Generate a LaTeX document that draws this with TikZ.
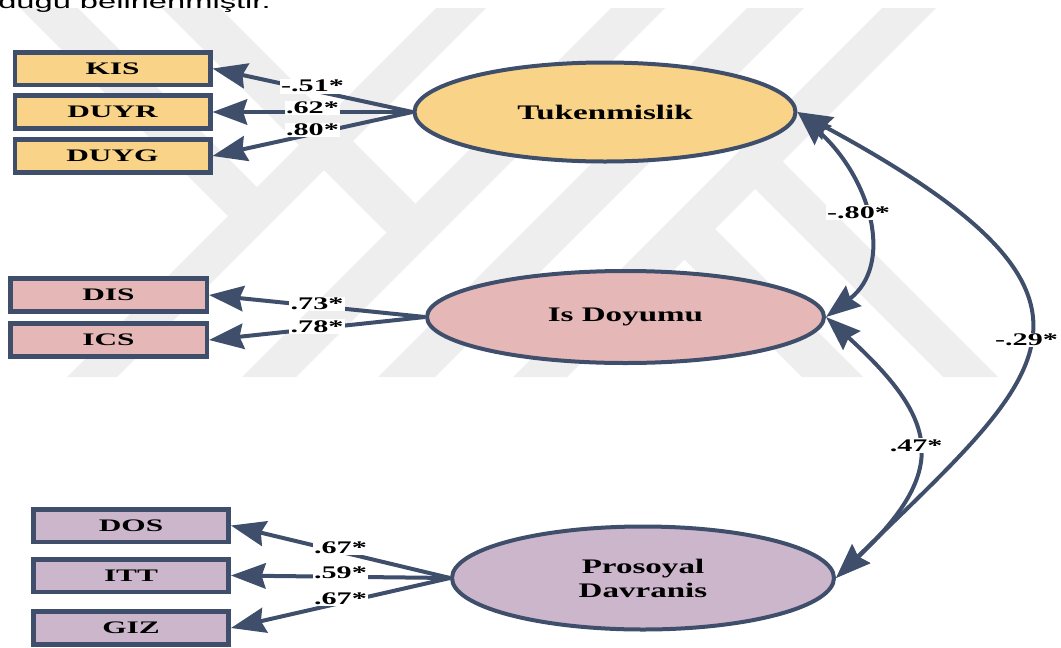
\documentclass[tikz,border=0pt]{standalone}
\usepackage{fontspec}
\usepackage{graphicx}
\setmainfont{Liberation Serif}
\newfontfamily\introfont{Liberation Sans}
\usetikzlibrary{arrows.meta,shapes.geometric}

\definecolor{edgeblue}{HTML}{3F4F6B}
\definecolor{fillT}{HTML}{F9D488}
\definecolor{fillD}{HTML}{E5B8B7}
\definecolor{fillP}{HTML}{CCB6CB}
\definecolor{markgrey}{HTML}{EEEEEE}

% horizontally widened text
\newcommand{\wide}[2][1.7]{\scalebox{#1}[1]{#2}}

\begin{document}
\begin{tikzpicture}[x=0.75pt,y=-0.75pt,
  obs/.style={draw=edgeblue, line width=3.4pt, minimum width=146.6pt,
    minimum height=24.4pt, inner sep=0pt,
    font=\fontsize{13.2}{15}\selectfont\bfseries},
  lat/.style={ellipse, draw=edgeblue, line width=3pt, inner sep=0pt,
    align=center, font=\fontsize{15.5}{18}\selectfont\bfseries},
  head/.tip={Stealth[length=26pt,width=19pt,inset=3pt]},
  load/.style={draw=edgeblue, line width=3pt, -head},
  cov/.style={draw=edgeblue, line width=3pt, head-head},
  lbl/.style={fill=white, inner sep=1pt,
    font=\fontsize{13.3}{15}\selectfont\bfseries},
]
\useasboundingbox (0,0) rectangle (1061,647);
\clip (0,0) rectangle (1061,647);

% faint background logo made of diagonal bands
\begin{scope}[fill=markgrey]
  \foreach \a/\b in {436/486, 611/665, 747/804, 882/936}
    \fill (\a,8) -- (\b,8) -- (\b-369,377) -- (\a-369,377) -- cycle;
  \fill (20,8) -- (78,8) -- (257,187) -- (228,216) -- cycle;
  \fill (162,8) -- (220,8) -- (415.5,203.5) -- (386.5,232.5) -- cycle;
  \fill (770.5,149.5) -- (998,377) -- (943,377) -- (743,177) -- cycle;
  \fill (703,217) -- (863,377) -- (802,377) -- (672.5,247.5) -- cycle;
\end{scope}

% running text above the figure
\node[anchor=base east, inner sep=0pt,
  font=\introfont\fontsize{14.25}{16}\selectfont] (intro) at (271,8)
  {\wide[1.72]{olduğu belirlenmiştir.}};

% observed variables
\node[obs, fill=fillT] (kis)  at (112.5,68.5) {\wide[1.78]{KIS}};
\node[obs, fill=fillT] (duyr) at (112.5,112)  {\wide[1.78]{DUYR}};
\node[obs, fill=fillT] (duyg) at (112.5,156)  {\wide[1.78]{DUYG}};
\node[obs, fill=fillD, minimum width=147.4pt] (dis) at (108.5,295) {\wide[1.78]{DIS}};
\node[obs, fill=fillD, minimum width=147.4pt] (ics) at (108.5,340) {\wide[1.78]{ICS}};
\node[obs, fill=fillP] (dos) at (131,525.5) {\wide[1.78]{DOS}};
\node[obs, fill=fillP] (itt) at (131,575.5) {\wide[1.78]{ITT}};
\node[obs, fill=fillP] (giz) at (131,628)   {\wide[1.78]{GIZ}};

% latent variables
\node[lat, fill=fillT, minimum width=285.75pt, minimum height=74.25pt]
  (tuk) at (605,112) {\wide[1.6]{Tukenmislik}};
\node[lat, fill=fillD, minimum width=297.75pt, minimum height=69pt]
  (doy) at (625.5,317) {\wide[1.6]{Is Doyumu}};
\node[lat, fill=fillP, minimum width=286.5pt, minimum height=77.25pt]
  (pro) at (643,578) {\wide[1.6]{Prosoyal}\\\wide[1.6]{Davranis}};

% factor loadings
\draw[load] (tuk.west) -- node[lbl, yshift=3pt] {\wide{-.51*}} (kis.east);
\draw[load] (tuk.west) -- node[lbl, yshift=3pt] {\wide{.62*}} (duyr.east);
\draw[load] (tuk.west) -- node[lbl, yshift=3pt] {\wide{.80*}} (duyg.east);
\draw[load] (doy.west) -- node[lbl, yshift=1.5pt] {\wide{.73*}} (dis.east);
\draw[load] (doy.west) -- node[lbl, yshift=1.5pt] {\wide{.78*}} (ics.east);
\draw[load] (pro.west) -- node[lbl, yshift=3pt] {\wide{.67*}} (dos.east);
\draw[load] (pro.west) -- node[lbl, yshift=3pt] {\wide{.59*}} (itt.east);
\draw[load] (pro.west) -- node[lbl, yshift=3pt] {\wide{.67*}} (giz.east);

% correlations between latent variables
\draw[cov] (tuk.east) .. controls (872,180) and (894,265) ..
  node[lbl, xshift=-5pt, yshift=6pt] {\wide{-.80*}} (doy.east);
\draw[cov] (doy.east) .. controls (939,420) and (950,470) ..
  node[lbl] {\wide{.47*}} (pro.east);
\draw[cov] (tuk.east) .. controls (1150,302) and (1043,375) ..
  node[lbl] {\wide{-.29*}} (pro.east);
\end{tikzpicture}
\end{document}
